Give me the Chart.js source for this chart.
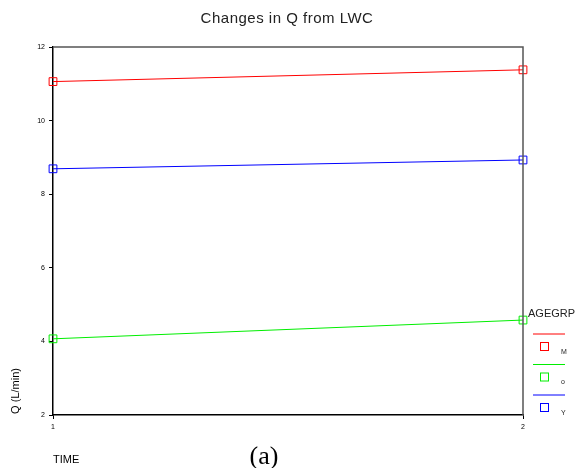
<!DOCTYPE html>
<html><head><meta charset="utf-8">
<script src="https://cdn.jsdelivr.net/npm/chart.js@4/dist/chart.umd.min.js"></script>
<style>html,body{margin:0;padding:0;background:#fff}#wrap{width:576px;height:468px;position:relative}</style>
</head><body><div id="wrap"><canvas id="c" width="576" height="468"></canvas></div>
<script>
const times = [1, 2];
const groups = ['M', 'O', 'Y'];
const valuesM = [11.06, 11.38];
const valuesO = [4.07, 4.58];
const valuesY = [8.69, 8.93];
const yTicks = [2, 4, 6, 8, 10, 12];
const colors = {M: '#ff0000', O: '#00ee00', Y: '#0000ff'};
const seriesVals = {M: valuesM, O: valuesO, Y: valuesY};

const datasets = groups.map(g => ({
  label: g,
  data: times.map((t, i) => ({x: t, y: seriesVals[g][i]})),
  borderColor: colors[g],
  backgroundColor: 'rgba(0,0,0,0)',
  borderWidth: 1,
  pointStyle: 'rect',
  pointRadius: 5.5,
  pointBorderWidth: 1,
  pointBorderColor: colors[g],
  pointBackgroundColor: 'rgba(0,0,0,0)',
  tension: 0,
  clip: false
}));

const deco = {
  id: 'deco',
  afterDraw(chart) {
    const ctx = chart.ctx, a = chart.chartArea;
    ctx.save();
    // top and right frame
    ctx.strokeStyle = '#555';
    ctx.lineWidth = 1.5;
    ctx.beginPath();
    ctx.moveTo(a.left, a.top); ctx.lineTo(a.right, a.top); ctx.lineTo(a.right, a.bottom);
    ctx.stroke();
    // title
    ctx.fillStyle = '#222';
    ctx.font = '15px "Liberation Sans", Arial, sans-serif';
    ctx.letterSpacing = '0.5px';
    ctx.textAlign = 'center'; ctx.textBaseline = 'middle';
    ctx.fillText('Changes in Q from LWC', 287, 19);
    ctx.letterSpacing = '0px';
    // axis titles
    ctx.font = '11px "Liberation Sans", Arial, sans-serif';
    ctx.fillStyle = '#000';
    ctx.textAlign = 'left';
    ctx.fillText('TIME', 53, 460);
    ctx.save();
    ctx.translate(16, 391); ctx.rotate(-Math.PI / 2);
    ctx.textAlign = 'center';
    ctx.fillText('Q (L/min)', 0, 0);
    ctx.restore();
    // (a)
    ctx.font = '26px "Liberation Serif", "Times New Roman", serif';
    ctx.textAlign = 'center';
    ctx.textBaseline = 'alphabetic';
    ctx.fillText('(a)', 264, 464);
    ctx.textBaseline = 'middle';
    // legend
    ctx.font = '11px "Liberation Sans", Arial, sans-serif';
    ctx.textAlign = 'left';
    ctx.fillStyle = '#222';
    ctx.fillText('AGEGRP', 528, 314);
    groups.forEach((g, i) => {
      const ly = 334 + i * 30.5;
      ctx.strokeStyle = colors[g]; ctx.lineWidth = 1;
      ctx.beginPath(); ctx.moveTo(533, ly); ctx.lineTo(565, ly); ctx.stroke();
      ctx.strokeRect(540.5, ly + 8.5, 8, 8);
      ctx.fillStyle = '#222';
      ctx.font = '7px "Liberation Sans", Arial, sans-serif';
      ctx.fillText(g === 'O' ? 'o' : g, 561, ly + 18);
    });
    ctx.restore();
  }
};

new Chart(document.getElementById('c'), {
  type: 'line',
  data: {datasets},
  options: {
    responsive: false,
    animation: false,
    layout: {padding: {left: 0, right: 53, top: 47, bottom: 0}},
    plugins: {legend: {display: false}, title: {display: false}, tooltip: {enabled: false}},
    scales: {
      x: {
        type: 'linear', min: 1, max: 2,
        afterFit(s) { s.height = 53; },
        afterBuildTicks(s) { s.ticks = times.map(v => ({value: v})); },
        grid: {drawOnChartArea: false, drawTicks: true, tickLength: 4, color: '#000'},
        border: {color: '#000', width: 1.5},
        ticks: {font: {size: 7, family: 'Liberation Sans'}, color: '#000', padding: 4, maxRotation: 0}
      },
      y: {
        type: 'linear', min: 2, max: 12,
        afterFit(s) { s.width = 53; },
        afterBuildTicks(s) { s.ticks = yTicks.map(v => ({value: v})); },
        grid: {drawOnChartArea: false, drawTicks: true, tickLength: 4, color: '#000'},
        border: {color: '#000', width: 1.5},
        ticks: {font: {size: 7, family: 'Liberation Sans'}, color: '#000', padding: 4}
      }
    }
  },
  plugins: [deco]
});
</script></body></html>
